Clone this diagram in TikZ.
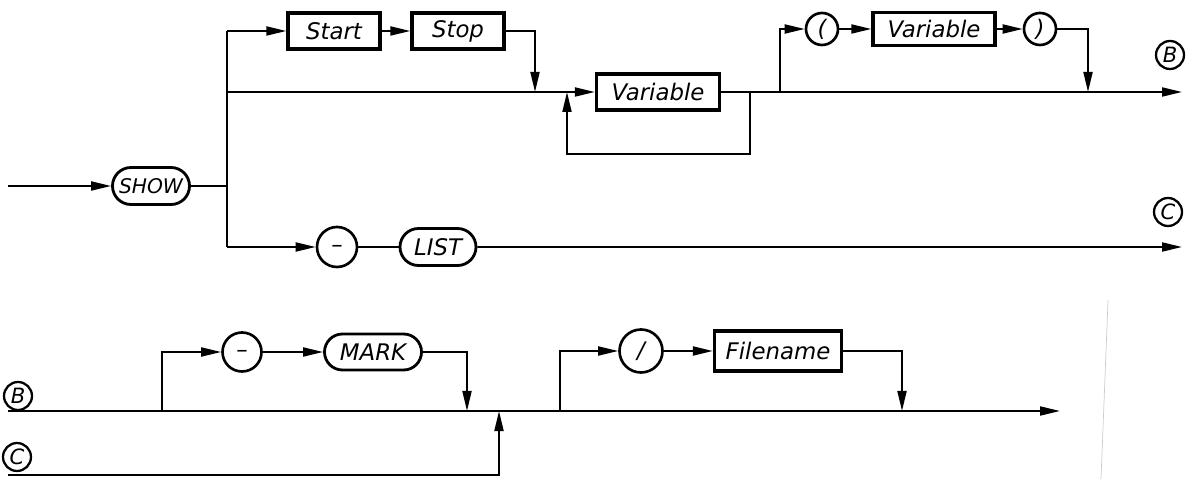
\documentclass[tikz,border=0pt]{standalone}
\usepackage{fontspec}
\setmainfont{DejaVu Sans}
\usetikzlibrary{arrows.meta, positioning, shapes.misc}

\begin{document}
\begin{tikzpicture}[x=0.2mm, y=-0.2mm,
  kw/.style  ={draw, rounded rectangle, line width=1.6pt, minimum height=7.4mm,
               inner sep=0pt, font=\fontsize{13}{15}\selectfont\itshape},
  ntm/.style ={draw, rectangle, line width=1.9pt, minimum height=7.2mm,
               inner sep=0pt, font=\fontsize{13}{15}\selectfont\itshape},
  sym/.style ={draw, circle, line width=1.5pt, minimum size=6.4mm, inner sep=0pt,
               font=\fontsize{13}{15}\selectfont\itshape},
  dsh/.style ={sym, text height=0.6em, text depth=0pt},
  lbl/.style ={draw, circle, line width=1.3pt, minimum size=5.6mm, inner sep=0pt,
               font=\fontsize{12}{14}\selectfont\itshape},
  arr/.style ={-{Triangle[length=4mm, width=1.8mm]}, line width=1.1pt},
  ln/.style  ={line width=1.1pt},
]
\useasboundingbox (0,0) rectangle (1190,479);

\node[kw, minimum width=15.4mm, font=\fontsize{11.5}{14}\selectfont\itshape] (show) at (151,186) {SHOW};
\node[ntm, minimum width=18.4mm] (start) at (334,31)  {Start};
\node[ntm, minimum width=18.4mm] (stop)  at (458,31)  {Stop};
\node[ntm, minimum width=24.6mm] (var)   at (658,92)  {Variable};
\node[sym] (lpar) at (822,29) {(};
\node[ntm, minimum width=24.4mm, minimum height=6.6mm] (var2) at (934,29) {Variable};
\node[sym] (rpar) at (1040,29) {)};
\node[dsh, minimum size=8mm]     (minus) at (337,247) {–};
\node[kw, minimum width=15.2mm]  (list)  at (438,247) {LIST};
\node[lbl] (labB) at (1170,55)  {B};
\node[lbl] (labC) at (1168,212) {C};

\coordinate (in)   at (8,186);
\coordinate (fork) at (227,186);
\coordinate (fa)   at (227,31);
\coordinate (fb)   at (227,92);
\coordinate (fc)   at (227,247);
\coordinate (sj)   at (535,92);
\coordinate (lp)   at (567,92);
\coordinate (lb)   at (750,154);
\coordinate (lc)   at (567,154);
\coordinate (pj)   at (780,92);
\coordinate (rj)   at (1088,92);
\coordinate (outB) at (1182,92);
\coordinate (outC) at (1182,247);

\draw[ln]  (fa) -- (fc);
\draw[arr] (in) -- (show);
\draw[ln]  (show) -- (fork);
\draw[arr] (fa) -- (start);
\draw[arr] (start) -- (stop);
\draw[arr] (stop.east) -| (sj);
\draw[arr] (fb) -- (var);
\draw[arr] (var.east) -| (lb) -- (lc) -- (lp);
\draw[arr] (var.east) -- (outB);
\draw[arr] (pj) |- (lpar);
\draw[arr] (lpar) -- (var2);
\draw[arr] (var2) -- (rpar);
\draw[arr] (rpar.east) -| (rj);
\draw[arr] (fc) -- (minus);
\draw[ln]  (minus) -- (list);
\draw[arr] (list) -- (outC);

\node[lbl] (labB2) at (18,396) {B};
\node[lbl] (labC2) at (17,457) {C};
\node[dsh, minimum size=7.8mm]  (minus2) at (242,352) {–};
\node[kw, minimum width=19.4mm, minimum height=7.2mm] (mark) at (373,352) {MARK};
\node[sym, minimum size=8.6mm]  (slash)  at (641,351) {/};
\node[ntm, minimum width=25.4mm, minimum height=8mm] (fname) at (778,351) {Filename};

\coordinate (inB)   at (8,411);
\coordinate (outB2) at (1060,411);
\coordinate (ba)    at (162,411);
\coordinate (mj)    at (467,411);
\coordinate (inC)   at (8,475);
\coordinate (cj)    at (499,411);
\coordinate (sa)    at (560,411);
\coordinate (fj)    at (902,411);

\draw[arr] (inB) -- (outB2);
\draw[arr] (ba) |- (minus2);
\draw[arr] (minus2) -- (mark);
\draw[arr] (mark.east) -| (mj);
\draw[arr] (inC) -| (cj);
\draw[arr] (sa) |- (slash);
\draw[arr] (slash) -- (fname);
\draw[arr] (fname.east) -| (fj);

\draw[gray!40, line width=0.4pt] (1108,300) -- (1101,479);
\end{tikzpicture}
\end{document}
